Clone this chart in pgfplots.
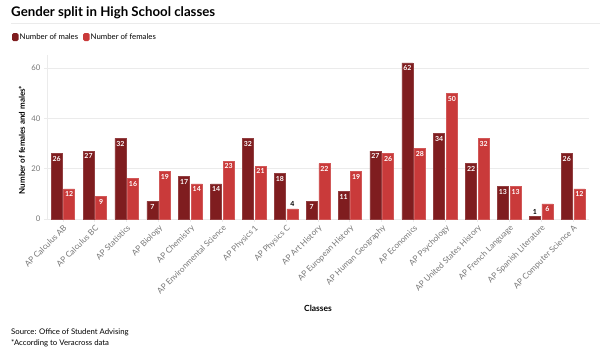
\documentclass[border=0pt]{standalone}
\usepackage{fontspec}
\setmainfont{Lato}
\usepackage{pgfplots}
\pgfplotsset{compat=1.18}
\definecolor{male}{HTML}{7F1D1F}
\definecolor{female}{HTML}{C93A3A}
\definecolor{tickgray}{HTML}{777777}
\definecolor{gridgray}{HTML}{EBEBEB}
\begin{document}
\begin{tikzpicture}
\useasboundingbox (0,0) rectangle (600bp,-357bp);
\node[anchor=west, inner sep=0, font=\bfseries\fontsize{13.3}{16}\selectfont] at (11bp,-12.5bp) {Gender split in High School classes};
\draw[gridgray, line width=0.8bp] (11bp,-23.5bp) -- (600bp,-23.5bp);
\fill[male, rounded corners=1.5bp] (12bp,-33bp) rectangle (18.5bp,-41bp);
\node[anchor=west, inner sep=0, font=\fontsize{7.8}{9}\selectfont] at (19.5bp,-37bp) {Number of males};
\fill[female, rounded corners=1.5bp] (83bp,-33bp) rectangle (89.5bp,-41bp);
\node[anchor=west, inner sep=0, font=\fontsize{7.8}{9}\selectfont] at (90.5bp,-37bp) {Number of females};
\node[rotate=90, inner sep=0, font=\bfseries\fontsize{8}{9}\selectfont] at (22bp,-140bp) {Number of females and males*};
\node[inner sep=0, font=\bfseries\fontsize{8.5}{10}\selectfont] at (318bp,-308bp) {Classes};
\node[anchor=west, inner sep=0, font=\fontsize{7.8}{9}\selectfont] at (11bp,-332.5bp) {Source: Office of Student Advising};
\node[anchor=west, inner sep=0, font=\fontsize{7.8}{9}\selectfont] at (11bp,-343.5bp) {*According to Veracross data};
\begin{axis}[
  at={(47bp,-219bp)}, anchor=south west,
  scale only axis, width=542bp, height=163.6bp,
  xmin=-0.5, xmax=16.5, ymin=0, ymax=65,
  enlargelimits=false, clip=false,
  ybar, bar width=11bp,
  ytick={0,20,40,60},
  ymajorgrids, grid style={gridgray, line width=0.8bp},
  xtick={0,...,16},
  xticklabels={AP Calculus AB, AP Calculus BC, AP Statistics, AP Biology, AP Chemistry, AP Environmental Science, AP Physics 1, AP Physics C, AP Art History, AP European History, AP Human Geography, AP Economics, AP Psychology, AP United States History, AP French Language, AP Spanish Literature, AP Computer Science A},
  x tick label style={rotate=45, anchor=north east, font=\fontsize{8.2}{9}\selectfont, text=tickgray, inner sep=1.5bp},
  y tick label style={font=\fontsize{7.8}{9}\selectfont, text=tickgray},
  /pgf/number format/assume math mode=true,
  axis x line*=bottom, axis y line*=left,
  axis line style={gridgray, line width=0.8bp},
  tick style={gridgray, line width=0.8bp},
  major tick length=3bp,
  xtick pos=bottom, ytick pos=left,
  tick align=outside,
  point meta=explicit symbolic,
  nodes near coords,
  every node near coord/.append style={font=\bfseries\fontsize{7}{8}\selectfont, text=white, anchor=north, inner ysep=2.5bp, inner xsep=1bp},
]
\addplot[fill=male, draw=male!85!white, line width=0.5bp, bar shift=-6.3bp] coordinates {
(0,26) [26] (1,27) [27] (2,32) [32] (3,7) [7] (4,17) [17] (5,14) [14] (6,32) [32] (7,18) [18] (8,7) [7] (9,11) [11] (10,27) [27] (11,62) [62] (12,34) [34] (13,22) [22] (14,13) [13] (15,1) [] (16,26) [26]};
\addplot[fill=female, draw=female!85!white, line width=0.5bp, bar shift=6.3bp] coordinates {
(0,12) [12] (1,9) [9] (2,16) [16] (3,19) [19] (4,14) [14] (5,23) [23] (6,21) [21] (7,4) [] (8,22) [22] (9,19) [19] (10,26) [26] (11,28) [28] (12,50) [50] (13,32) [32] (14,13) [13] (15,6) [6] (16,12) [12]};
\addplot[draw=none, fill=none, bar shift=-6.3bp, forget plot, every node near coord/.append style={text=black, anchor=south, inner ysep=2bp}] coordinates {(15,1) [1]};
\addplot[draw=none, fill=none, bar shift=6.3bp, forget plot, every node near coord/.append style={text=black, anchor=south, inner ysep=2bp}] coordinates {(7,4) [4]};
\end{axis}
\end{tikzpicture}
\end{document}
